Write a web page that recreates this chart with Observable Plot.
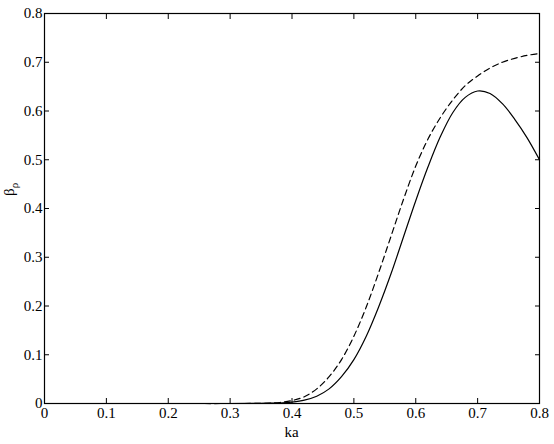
<!DOCTYPE html>
<html>
<head>
<meta charset="utf-8">
<script src="https://cdn.jsdelivr.net/npm/d3@7"></script>
<script src="https://cdn.jsdelivr.net/npm/@observablehq/plot@0.6"></script>
<style>
  html, body { margin: 0; padding: 0; background: #fff; }
  #chart svg { display: block; }
</style>
</head>
<body>
<div id="chart"></div>
<script>
const xTicks = [0, 0.1, 0.2, 0.3, 0.4, 0.5, 0.6, 0.7, 0.8];
const yTicks = [0, 0.1, 0.2, 0.3, 0.4, 0.5, 0.6, 0.7, 0.8];

const kaSolid = [0, 0.1, 0.2, 0.3, 0.35, 0.38, 0.40, 0.42, 0.44, 0.46, 0.48, 0.50, 0.52, 0.54, 0.56, 0.58, 0.60, 0.62, 0.64, 0.66, 0.68, 0.70, 0.72, 0.74, 0.76, 0.78, 0.80];
const betaSolid = [0, 0, 0, 0, 0.0005, 0.001, 0.003, 0.007, 0.015, 0.03, 0.055, 0.09, 0.138, 0.198, 0.266, 0.341, 0.416, 0.486, 0.548, 0.597, 0.628, 0.641, 0.636, 0.615, 0.583, 0.545, 0.50];

const kaDashed = [0, 0.1, 0.2, 0.3, 0.36, 0.38, 0.40, 0.42, 0.44, 0.46, 0.48, 0.50, 0.52, 0.54, 0.56, 0.58, 0.60, 0.62, 0.64, 0.66, 0.68, 0.70, 0.72, 0.74, 0.76, 0.78, 0.80];
const betaDashed = [0, 0, 0, 0, 0.0005, 0.002, 0.006, 0.014, 0.03, 0.055, 0.09, 0.138, 0.198, 0.268, 0.343, 0.418, 0.487, 0.543, 0.587, 0.623, 0.652, 0.672, 0.688, 0.70, 0.708, 0.714, 0.718];

const solid = kaSolid.map((x, i) => ({x, y: betaSolid[i]}));
const dashed = kaDashed.map((x, i) => ({x, y: betaDashed[i]}));

const font = "Liberation Serif";
const fmt = d => String(+d.toFixed(1));

const chart = Plot.plot({
  width: 554,
  height: 444,
  marginLeft: 44,
  marginRight: 15,
  marginTop: 13,
  marginBottom: 41,
  style: {fontFamily: font, fontSize: "15px", background: "#fff", color: "#000"},
  x: {domain: [0, 0.8]},
  y: {domain: [0, 0.8]},
  marks: [
    Plot.line(dashed, {x: "x", y: "y", stroke: "#000", strokeWidth: 1.2, strokeDasharray: "6,4", curve: "catmull-rom"}),
    Plot.line(solid, {x: "x", y: "y", stroke: "#000", strokeWidth: 1.2, curve: "catmull-rom"}),
    Plot.axisX({anchor: "bottom", ticks: xTicks, tickSize: -5, tickPadding: 9, tickFormat: fmt, label: null, fontSize: 15}),
    Plot.axisX({anchor: "top", ticks: xTicks, tickSize: -5, tickFormat: () => "", label: null}),
    Plot.axisY({anchor: "left", ticks: yTicks, tickSize: -5, tickPadding: 7, tickFormat: fmt, label: null, fontSize: 15}),
    Plot.axisY({anchor: "right", ticks: yTicks, tickSize: -5, tickFormat: () => "", label: null}),
    Plot.frame({stroke: "#000", strokeWidth: 1.2})
  ]
});

const svg = d3.select(chart);
svg.selectAll("g").attr("font-variant", null);
svg.append("text")
  .attr("x", 291.5).attr("y", 437)
  .attr("text-anchor", "middle")
  .attr("font-size", 15)
  .attr("fill", "#000")
  .text("ka");
const yl = svg.append("text")
  .attr("transform", "translate(14,196) rotate(-90)")
  .attr("text-anchor", "start")
  .attr("font-size", 15)
  .attr("fill", "#000");
yl.append("tspan").text("β");
yl.append("tspan").attr("dy", 4).attr("font-size", 11).text("ρ");
svg.selectAll("text").attr("font-family", font);

document.getElementById("chart").appendChild(chart);
</script>
</body>
</html>
